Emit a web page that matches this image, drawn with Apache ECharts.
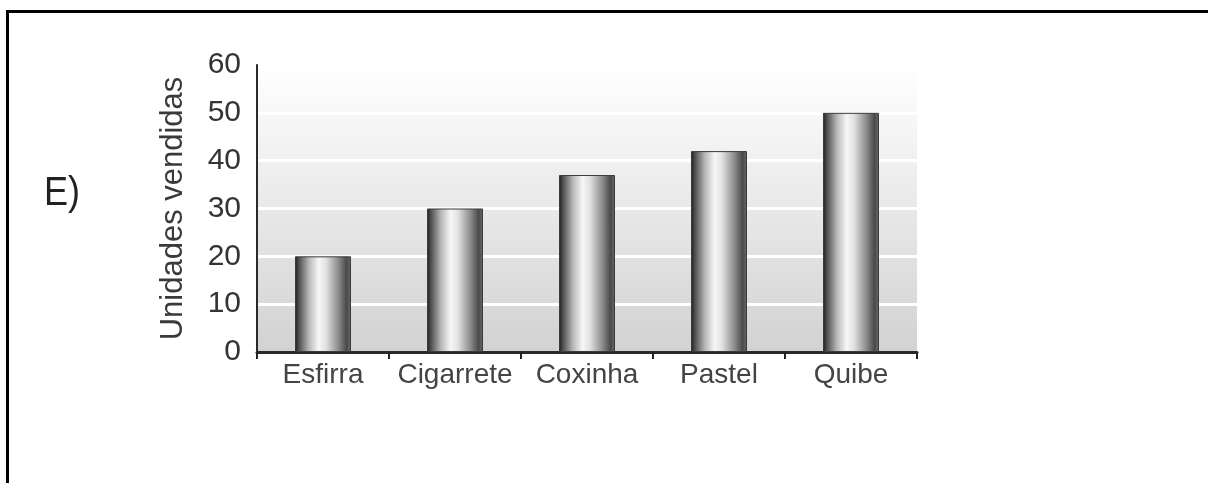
<!DOCTYPE html>
<html>
<head>
<meta charset="utf-8">
<script src="https://cdn.jsdelivr.net/npm/echarts@6/dist/echarts.min.js"></script>
<style>
  html, body { margin: 0; padding: 0; background: #fff; }
  #frame { position: absolute; left: 6px; top: 10px; width: 1210px; height: 500px;
           border-left: 3px solid #000; border-top: 3px solid #000; box-sizing: border-box; }
  #chart { position: absolute; left: 0; top: 0; width: 1208px; height: 483px; }
</style>
</head>
<body>
<div id="frame"></div>
<div id="chart"></div>
<script>
const categories = ['Esfirra', 'Cigarrete', 'Coxinha', 'Pastel', 'Quibe'];
const unitsSold = [20, 30, 37, 42, 50];
const yTicks = { min: 0, max: 60, interval: 10 };
const yAxisName = 'Unidades vendidas';
const panelLabel = 'E)';

const chart = echarts.init(document.getElementById('chart'), null, { renderer: 'canvas' });
const barGradient = new echarts.graphic.LinearGradient(0, 0, 1, 0, [
  { offset: 0.00, color: '#1e1e1e' },
  { offset: 0.08, color: '#555555' },
  { offset: 0.25, color: '#b8b8b8' },
  { offset: 0.42, color: '#f6f6f6' },
  { offset: 0.55, color: '#e2e2e2' },
  { offset: 0.78, color: '#8a8a8a' },
  { offset: 0.92, color: '#4a4a4a' },
  { offset: 1.00, color: '#6a6a6a' }
]);
chart.setOption({
  animation: false,
  backgroundColor: 'transparent',
  graphic: [{
    type: 'text', left: 44, top: 174, scaleX: 0.9,
    style: { text: panelLabel, font: '40px "Liberation Sans", Arial, sans-serif', fill: '#222' }
  }],
  grid: {
    left: 257, right: 291, top: 65, bottom: 131,
    show: true, borderWidth: 0,
    backgroundColor: new echarts.graphic.LinearGradient(0, 0, 0, 1, [
      { offset: 0, color: '#ffffff' },
      { offset: 1, color: '#d2d2d2' }
    ])
  },
  xAxis: {
    type: 'category',
    data: categories,
    axisLine: { lineStyle: { color: '#2a2a2a', width: 3 } },
    axisTick: { show: true, interval: 0, length: 7, lineStyle: { color: '#222', width: 2 } },
    axisLabel: { interval: 0, hideOverlap: false, color: '#444', fontSize: 28,
                 fontFamily: '"Liberation Sans", Arial, sans-serif', margin: 9 },
    splitLine: { show: false }
  },
  yAxis: {
    type: 'value',
    min: yTicks.min, max: yTicks.max, interval: yTicks.interval,
    name: yAxisName,
    nameLocation: 'middle',
    nameGap: 68,
    nameTextStyle: { color: '#3a3a3a', fontSize: 31, fontFamily: '"Liberation Sans", Arial, sans-serif' },
    axisLine: { show: true, lineStyle: { color: '#2a2a2a', width: 2 } },
    axisTick: { show: false },
    axisLabel: { color: '#333', fontSize: 30, fontFamily: '"Liberation Sans", Arial, sans-serif', margin: 16 },
    splitLine: { show: true, lineStyle: { color: '#ffffff', width: 3 } }
  },
  series: [{
    type: 'bar',
    data: unitsSold,
    barWidth: 56,
    itemStyle: { color: barGradient, borderColor: '#3a3a3a', borderWidth: 1 },
    z: 3
  }]
});
</script>
</body>
</html>
